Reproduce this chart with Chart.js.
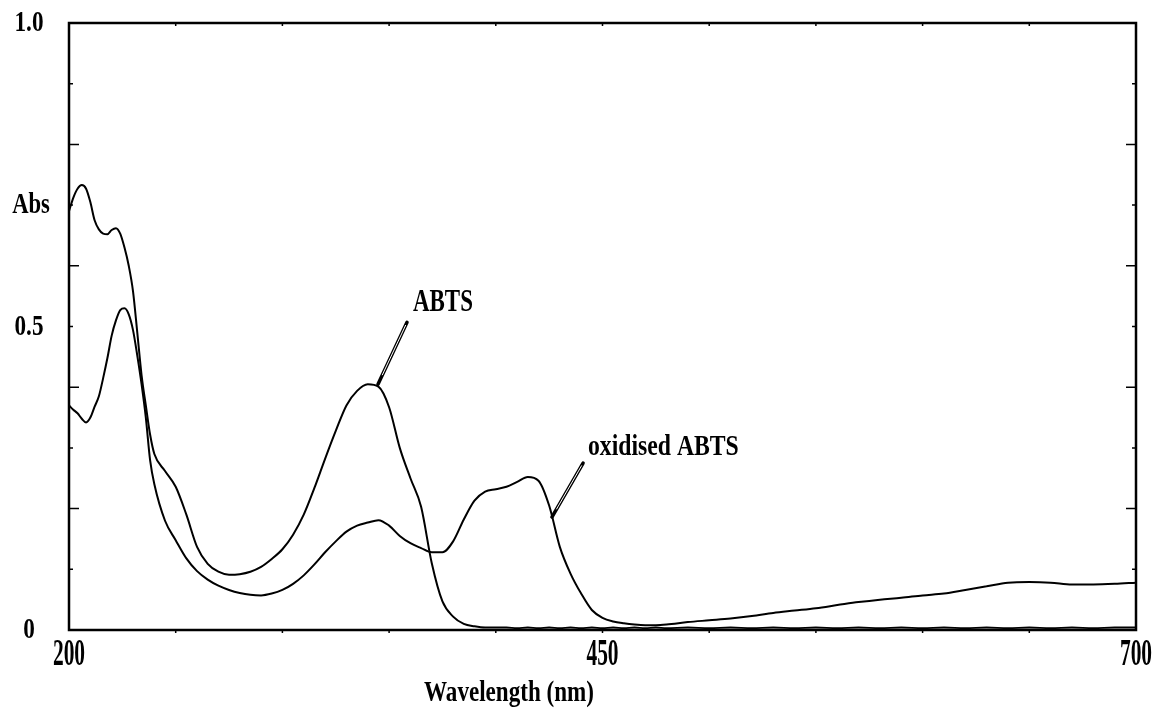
<!DOCTYPE html>
<html lang="en">
<head>
  <meta charset="UTF-8">
  <title>ABTS spectra</title>
  <script src="https://cdn.jsdelivr.net/npm/chart.js"></script>
  <style>
    html, body {
      margin: 0;
      padding: 0;
      background: #fff;
    }

    #wrap {
      width: 1154px;
      height: 710px;
      position: relative;
    }
  </style>
</head>
<body>
  <div id="wrap">
    <canvas id="grafico"></canvas>
  </div>

  <script>
    // wavelength grid (nm)
    const wavelengths = [
      200, 202, 204, 206, 208, 210, 212, 214, 216, 218, 220, 222, 224, 226, 228, 230, 232, 234, 236, 238, 240,
      245, 250, 255, 260, 265, 270, 275, 280, 285, 290, 295, 300, 305, 310, 315, 320, 325, 330, 335, 340,
      345, 350, 355, 360, 365, 370, 375, 380, 385, 390, 395, 400, 405, 410, 415, 420, 425, 430, 435, 440,
      445, 450, 455, 460, 465, 470, 475, 480,
      490, 500, 510, 520, 530, 540, 550, 560, 570, 580, 590, 600, 610, 620, 630, 640, 650, 660, 670, 680, 690, 700
    ];

    const abts = [
      0.690, 0.712, 0.727, 0.733, 0.727, 0.705, 0.675, 0.660, 0.653, 0.652, 0.659, 0.662, 0.653, 0.630, 0.600, 0.558, 0.490, 0.420, 0.370, 0.322, 0.290,
      0.262, 0.236, 0.190, 0.137, 0.109, 0.096, 0.091, 0.092, 0.096, 0.104, 0.117, 0.133, 0.157, 0.190, 0.234, 0.282, 0.328, 0.370, 0.394, 0.405,
      0.401, 0.367, 0.300, 0.250, 0.203, 0.110, 0.047, 0.022, 0.010, 0.006, 0.004, 0.004, 0.004, 0.003, 0.004, 0.003, 0.004, 0.003, 0.004, 0.003,
      0.004, 0.003, 0.004, 0.003, 0.004, 0.003, 0.004, 0.003,
      0.004, 0.003, 0.004, 0.003, 0.004, 0.003, 0.004, 0.003, 0.004, 0.003, 0.004, 0.003, 0.004, 0.003, 0.004, 0.003, 0.004, 0.003, 0.004, 0.003, 0.004, 0.004
    ];

    const oxidised = [
      0.370, 0.363, 0.357, 0.348, 0.342, 0.350, 0.368, 0.385, 0.415, 0.448, 0.485, 0.510, 0.527, 0.530, 0.520, 0.494, 0.452, 0.405, 0.350, 0.280, 0.240,
      0.180, 0.148, 0.118, 0.097, 0.083, 0.073, 0.066, 0.061, 0.058, 0.057, 0.060, 0.066, 0.076, 0.090, 0.108, 0.128, 0.146, 0.162, 0.172, 0.177,
      0.181, 0.172, 0.155, 0.143, 0.135, 0.128, 0.128, 0.146, 0.182, 0.213, 0.228, 0.232, 0.236, 0.244, 0.252, 0.246, 0.205, 0.137, 0.093, 0.060,
      0.033, 0.020, 0.014, 0.011, 0.009, 0.008, 0.008, 0.009,
      0.013, 0.016, 0.019, 0.023, 0.028, 0.032, 0.036, 0.041, 0.046, 0.050, 0.053, 0.057, 0.060, 0.066, 0.072, 0.078, 0.079, 0.078, 0.075, 0.075, 0.076, 0.078
    ];

    const xTickLabels = [200, 450, 700];
    const yTickLabels = [0, 0.5, 1.0];

    function pontos(valores) {
      return valores.map((v, i) => ({ x: wavelengths[i], y: v }));
    }

    // draws condensed bold serif text, like the scanned figure
    function texto(ctx, str, x, y, size, sx, align, base) {
      ctx.save();
      ctx.translate(x, y);
      ctx.scale(sx, 1);
      ctx.font = 'bold ' + size + 'px "Liberation Serif", "DejaVu Serif", serif';
      ctx.fillStyle = '#000';
      ctx.textAlign = align || 'center';
      ctx.textBaseline = base || 'middle';
      ctx.fillText(str, 0, 0);
      ctx.restore();
    }

    function ponteiro(ctx, x1, y1, x2, y2) {
      ctx.save();
      ctx.lineCap = 'round';
      ctx.strokeStyle = '#000';
      ctx.lineWidth = 3.5;
      ctx.beginPath();
      ctx.moveTo(x1, y1);
      ctx.lineTo(x2, y2);
      ctx.stroke();
      ctx.strokeStyle = '#fff';
      ctx.lineWidth = 1;
      ctx.beginPath();
      ctx.moveTo(x1 + (x2 - x1) * 0.15, y1 + (y2 - y1) * 0.15);
      ctx.lineTo(x2 - (x2 - x1) * 0.05, y2 - (y2 - y1) * 0.05);
      ctx.stroke();
      ctx.restore();
    }

    const moldura = {
      id: 'moldura',
      afterDraw(chart) {
        const ctx = chart.ctx;
        const a = chart.chartArea;
        const xs = chart.scales.x;
        const ys = chart.scales.y;

        ctx.save();
        ctx.strokeStyle = '#000';
        ctx.lineWidth = 1.5;
        // y ticks, pointing inward on both sides
        for (let k = 1; k < 10; k++) {
          const py = ys.getPixelForValue(k / 10);
          const len = (k % 2 === 0) ? 10 : 4;
          ctx.beginPath();
          ctx.moveTo(a.left, py);
          ctx.lineTo(a.left + len, py);
          ctx.moveTo(a.right, py);
          ctx.lineTo(a.right - len, py);
          ctx.stroke();
        }
        // x ticks every 50 nm
        for (let w = 250; w < 700; w += 50) {
          const px = xs.getPixelForValue(w);
          ctx.beginPath();
          ctx.moveTo(px, a.bottom);
          ctx.lineTo(px, a.bottom + 3);
          ctx.moveTo(px, a.top);
          ctx.lineTo(px, a.top + 3);
          ctx.stroke();
        }
        ctx.lineWidth = 2.5;
        ctx.strokeRect(a.left, a.top, a.right - a.left, a.bottom - a.top);
        ctx.restore();

        // tick labels
        yTickLabels.forEach(v => {
          const lab = v === 0 ? '0' : v.toFixed(1);
          texto(ctx, lab, 29, ys.getPixelForValue(v) + 1, 29, 0.8);
        });
        xTickLabels.forEach(v => {
          texto(ctx, String(v), xs.getPixelForValue(v), 655, 37, 0.58);
        });

        texto(ctx, 'Abs', 31, 206, 29, 0.78);
        texto(ctx, 'Wavelength (nm)', 424, 701, 30, 0.77, 'left', 'alphabetic');

        // curve labels with pointers
        ponteiro(ctx, xs.getPixelForValue(344.8), ys.getPixelForValue(0.405),
                 xs.getPixelForValue(358.4), ys.getPixelForValue(0.507));
        texto(ctx, 'ABTS', xs.getPixelForValue(361.2), ys.getPixelForValue(0.539), 31, 0.74, 'left');

        ponteiro(ctx, xs.getPixelForValue(426.3), ys.getPixelForValue(0.186),
                 xs.getPixelForValue(440.9), ys.getPixelForValue(0.275));
        texto(ctx, 'oxidised ABTS', xs.getPixelForValue(443.2), ys.getPixelForValue(0.301), 30, 0.79, 'left');
      }
    };

    const ctx = document.getElementById('grafico').getContext('2d');
    new Chart(ctx, {
      type: 'line',
      data: {
        datasets: [
          {
            label: 'ABTS',
            data: pontos(abts),
            borderColor: '#000',
            borderWidth: 2,
            pointRadius: 0,
            cubicInterpolationMode: 'monotone',
            fill: false
          },
          {
            label: 'oxidised ABTS',
            data: pontos(oxidised),
            borderColor: '#000',
            borderWidth: 2,
            pointRadius: 0,
            cubicInterpolationMode: 'monotone',
            fill: false
          }
        ]
      },
      options: {
        responsive: true,
        maintainAspectRatio: false,
        animation: false,
        layout: {
          padding: { left: 69, top: 23, right: 18, bottom: 80 }
        },
        plugins: {
          legend: { display: false },
          tooltip: { enabled: false }
        },
        scales: {
          x: { type: 'linear', min: 200, max: 700, display: false },
          y: { min: 0, max: 1, display: false }
        }
      },
      plugins: [moldura]
    });
  </script>
</body>
</html>
